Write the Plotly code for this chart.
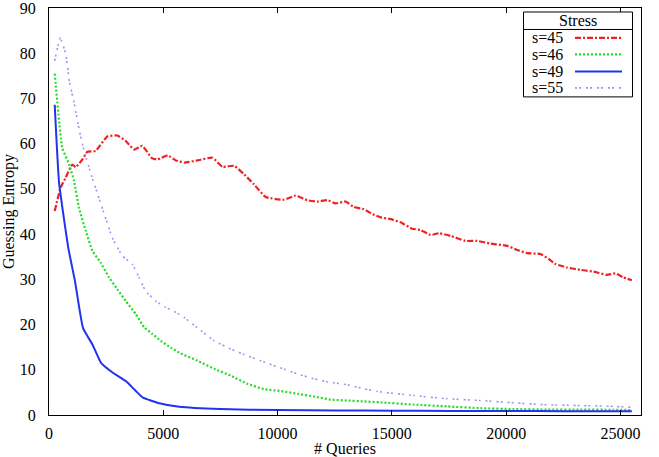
import plotly.graph_objects as go

# ---------------- data ----------------
x_s45 = [250, 510, 730, 1020, 1170, 1460, 1680, 2040, 2550, 2990, 3350, 3720, 4080,
         4500, 4750, 5190, 5550, 5910, 6500, 7150, 7590, 8100, 8540, 8970, 9480,
         10280, 10790, 11300, 11740, 12180, 12540, 12980, 13340, 13780, 14150, 14510,
         14950, 15380, 15890, 16260, 16690, 17060, 17570, 18220, 18730, 19320, 20050,
         20480, 20920, 21500, 21860, 22160, 22670, 23250, 23830, 24410, 24780, 25140, 25500]
y_s45 = [45.1, 50.3, 52.5, 55.4, 54.8, 56.5, 58.2, 58.4, 61.6, 61.8, 60.6, 58.7, 59.5,
         56.8, 56.5, 57.4, 56.3, 55.8, 56.3, 56.9, 54.9, 55.1, 53.2, 51.0, 48.2,
         47.6, 48.5, 47.5, 47.2, 47.5, 46.8, 47.2, 46.0, 45.5, 44.4, 43.7,
         43.3, 42.6, 41.2, 40.9, 39.8, 40.2, 39.6, 38.5, 38.5, 37.9, 37.4,
         36.5, 35.8, 35.6, 34.5, 33.4, 32.6, 32.1, 31.7, 31.0, 31.3, 30.4, 29.8]

x_s46 = [250, 580, 880, 1100, 1310, 1610, 1900, 2260, 2630, 2990, 3360, 3800, 4160,
         4530, 4890, 5330, 5770, 6500, 7230, 7950, 8680, 9410, 10140, 10870, 11590,
         12320, 13050, 13780, 14510, 15970, 17420, 18880, 20340, 21800, 23250, 24700, 25500]
y_s46 = [75.5, 59.1, 55.4, 51.7, 45.8, 40.7, 36.3, 33.7, 30.4, 27.8, 25.2, 22.3, 19.4,
         17.9, 16.4, 14.9, 13.6, 12.0, 10.2, 8.7, 6.9, 5.7, 5.3, 4.7, 4.1,
         3.4, 3.2, 3.0, 2.8, 2.3, 1.9, 1.5, 1.3, 1.2, 1.2, 1.15, 1.1]

x_s49 = [250, 440, 850, 1140, 1490, 1900, 2270, 2780, 3360, 3800, 4090, 4830, 5700,
         7500, 10000, 12500, 15000, 17500, 20000, 22500, 25500]
y_s49 = [68.6, 51.4, 36.8, 29.5, 19.2, 15.6, 11.6, 9.4, 7.5, 5.3, 3.9, 2.6, 1.8,
         1.3, 1.1, 1.0, 0.95, 0.9, 0.9, 0.85, 0.85]

x_s55 = [250, 490, 740, 890, 1110, 1330, 1540, 1840, 2130, 2420, 2770, 3210, 3650,
         3940, 4230, 4670, 5110, 5550, 5910, 6640, 7230, 7950, 8680, 9410, 10140,
         10870, 11590, 12320, 13050, 13780, 14360, 15970, 17420, 18880, 20340, 21790,
         23250, 24700, 25500]
y_s55 = [78.3, 83.4, 79.7, 73.8, 68.7, 62.8, 58.4, 53.2, 48.8, 44.4, 39.2, 35.2, 33.3,
         30.4, 27.4, 25.2, 23.8, 22.7, 21.6, 18.7, 16.4, 14.6, 13.1, 11.7, 10.4,
         9.1, 8.0, 7.2, 6.7, 5.8, 5.2, 4.3, 3.6, 3.2, 2.7, 2.25,
         2.1, 1.9, 1.7]

series_names = ["s=45", "s=46", "s=49", "s=55"]
x_ticks = [0, 5000, 10000, 15000, 20000, 25000]
y_ticks = [0, 10, 20, 30, 40, 50, 60, 70, 80, 90]

# ---------------- styles ----------------
colors = ["#ee2222", "#22dd22", "#2233ee", "#a990f0"]
dashes = ["6px,2px,2px,2px", "2px,2px", "solid", "2px,2px,2px,5px"]
widths = [2.2, 2.2, 2.0, 1.6]
FONT = "Liberation Serif, Times New Roman, serif"
FS = 16

W, H = 659, 457
L, R, T, B = 49, 641, 8, 415.5

fig = go.Figure()
for xs, ys, name, c, d, w in zip([x_s45, x_s46, x_s49, x_s55],
                                 [y_s45, y_s46, y_s49, y_s55],
                                 series_names, colors, dashes, widths):
    fig.add_trace(go.Scatter(x=xs, y=ys, mode="lines", name=name,
                             line=dict(color=c, dash=d, width=w, shape="spline", smoothing=0.4),
                             showlegend=False))

def px2paper_x(px):
    return (px - L) / (R - L)

def px2paper_y(py):
    return (B - py) / (B - T)

# custom gnuplot-style legend (text left, sample right)
box = dict(x0=523.5, x1=632.5, y0=12, y1=97)
shapes = [
    dict(type="rect", xref="paper", yref="paper",
         x0=px2paper_x(box["x0"]), x1=px2paper_x(box["x1"]),
         y0=px2paper_y(box["y1"]), y1=px2paper_y(box["y0"]),
         line=dict(color="black", width=1), fillcolor="white", layer="above"),
    dict(type="line", xref="paper", yref="paper",
         x0=px2paper_x(box["x0"]), x1=px2paper_x(box["x1"]),
         y0=px2paper_y(29.5), y1=px2paper_y(29.5),
         line=dict(color="black", width=1), layer="above"),
]
annotations = [dict(text="Stress", xref="paper", yref="paper",
                    x=px2paper_x((box["x0"] + box["x1"]) / 2), y=px2paper_y(21),
                    xanchor="center", yanchor="middle", showarrow=False,
                    font=dict(family=FONT, size=FS, color="black"))]
row_y = [38, 54.5, 71.5, 88]
for name, c, d, w, ry in zip(series_names, colors, dashes, widths, row_y):
    annotations.append(dict(text=name, xref="paper", yref="paper",
                            x=px2paper_x(530), y=px2paper_y(ry),
                            xanchor="left", yanchor="middle", showarrow=False,
                            font=dict(family=FONT, size=FS, color="black")))
    shapes.append(dict(type="line", xref="paper", yref="paper",
                       x0=px2paper_x(575), x1=px2paper_x(622),
                       y0=px2paper_y(ry), y1=px2paper_y(ry),
                       line=dict(color=c, dash=d, width=w), layer="above"))

tickfont = dict(family=FONT, size=FS, color="black")
axis_common = dict(showline=True, linecolor="black", linewidth=1.3,
                   showgrid=False, zeroline=False, automargin=False,
                   ticklabeloverflow="allow", tickfont=tickfont)

fig.update_layout(
    width=W, height=H,
    margin=dict(l=L, r=W - R, t=T, b=H - B),
    paper_bgcolor="white", plot_bgcolor="white",
    xaxis=dict(range=[0, 25900], tickvals=x_ticks, ticktext=[str(v) for v in x_ticks],
               ticks="inside", ticklen=5, tickwidth=1, tickcolor="black", mirror="ticks",
               ticklabelstandoff=4,
               title=dict(text="# Queries", font=tickfont, standoff=0),
               **axis_common),
    # labelled y axis: transparent outside ticks only create the gap to the labels
    yaxis=dict(range=[0, 90], tickvals=y_ticks, ticktext=[str(v) for v in y_ticks],
               ticks="outside", ticklen=9, tickcolor="rgba(0,0,0,0)", mirror=True,
               title=dict(text="Guessing Entropy", font=tickfont, standoff=4),
               **axis_common),
    # overlay y axis that draws the inside (mirrored) tick marks
    yaxis2=dict(range=[0, 90], tickvals=y_ticks, overlaying="y", side="left",
                showticklabels=False, ticks="inside", ticklen=5, tickwidth=1,
                tickcolor="black", mirror="ticks", showline=True, linecolor="black",
                linewidth=1.3, showgrid=False, zeroline=False),
    shapes=shapes, annotations=annotations,
    showlegend=False,
)

fig.write_html("out.html")
